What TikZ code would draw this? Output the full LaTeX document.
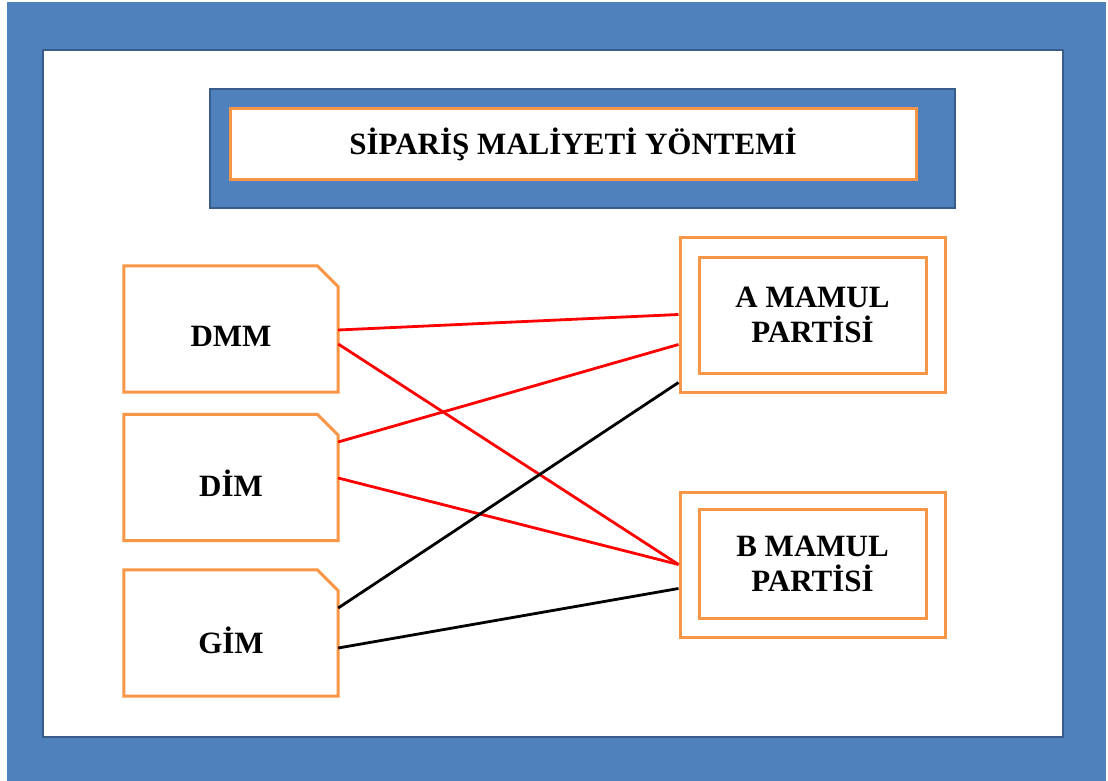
\documentclass[tikz,border=0pt]{standalone}
\usepackage{fontspec}
\setmainfont{Liberation Serif}
\definecolor{obl}{HTML}{4F81BD}
\definecolor{dbl}{HTML}{385D8A}
\definecolor{oor}{HTML}{F79646}
\begin{document}
\begin{tikzpicture}[x=1pt,y=-1pt,
  lbl/.style={font=\fontsize{31}{35}\selectfont\bfseries, align=center},
  src/.style={draw=none, minimum width=214pt, minimum height=126pt, inner sep=0pt},
  chamf/.style={draw=oor, line width=3pt, fill=white, line join=miter},
  outbox/.style={draw=oor, line width=3pt, fill=white, minimum width=265pt, inner sep=0pt},
  inbox/.style={draw=oor, line width=3pt, minimum width=227pt, inner sep=0pt},
  redl/.style={draw=red, line width=2.8pt},
  blkl/.style={draw=black, line width=2.8pt}]
\useasboundingbox (0,0) rectangle (1108,781);
\fill[white] (0,0) rectangle (1108,781);
\fill[obl] (7,2) rectangle (1106,781);
% inner white panel
\node[draw=dbl, line width=2pt, fill=white, minimum width=1020pt, minimum height=687pt, inner sep=0pt] (panel) at (553,393.5) {};
% title
\node[draw=dbl, line width=2pt, fill=obl, minimum width=745pt, minimum height=119pt, inner sep=0pt] (tbox) at (582.5,148.5) {};
\node[draw=oor, line width=3pt, fill=white, minimum width=686pt, minimum height=70pt, inner sep=0pt, lbl] (title) at (573,144) {SİPARİŞ MALİYETİ YÖNTEMİ};
% left boxes
\node[src] (dmm) at (231,329) {};
\node[src] (dim) at (231,477.5) {};
\node[src] (gim) at (231,633) {};
\foreach \n in {dmm,dim,gim}{
  \draw[chamf] (\n.south west) -- (\n.north west) -- ([xshift=-21pt]\n.north east) -- ([yshift=-21pt]\n.north east) -- (\n.south east) -- cycle;
}
\node[lbl] (dmmt) at ([yshift=-7pt]dmm.center) {DMM};
\node[lbl] (dimt) at ([yshift=-6pt]dim.center) {DİM};
\node[lbl] (gimt) at ([yshift=-7pt]gim.center) {GİM};
% right boxes
\node[outbox, minimum height=155pt] (a) at (812.5,314.5) {};
\node[inbox, minimum height=116pt, lbl] (ain) at (812.5,315) {A MAMUL\\PARTİSİ};
\node[outbox, minimum height=145pt] (b) at (812.5,564.5) {};
\node[inbox, minimum height=109pt, lbl] (bin) at (812.5,563.5) {B MAMUL\\PARTİSİ};
% connectors
\draw[redl] ([yshift=-1pt]dmm.east) -- ([yshift=0pt]a.west);
\draw[redl] ([yshift=35.5pt]dim.east) -- ([yshift=-30pt]a.west);
\draw[redl] ([yshift=-15pt]dmm.east) -- ([yshift=0pt]b.west);
\draw[redl] ([yshift=-0.5pt]dim.east) -- ([yshift=0pt]b.west);
\draw[blkl] ([yshift=25pt]gim.east) -- ([yshift=-68pt]a.west);
\draw[blkl] ([yshift=-15pt]gim.east) -- ([yshift=-24pt]b.west);
\end{tikzpicture}
\end{document}
